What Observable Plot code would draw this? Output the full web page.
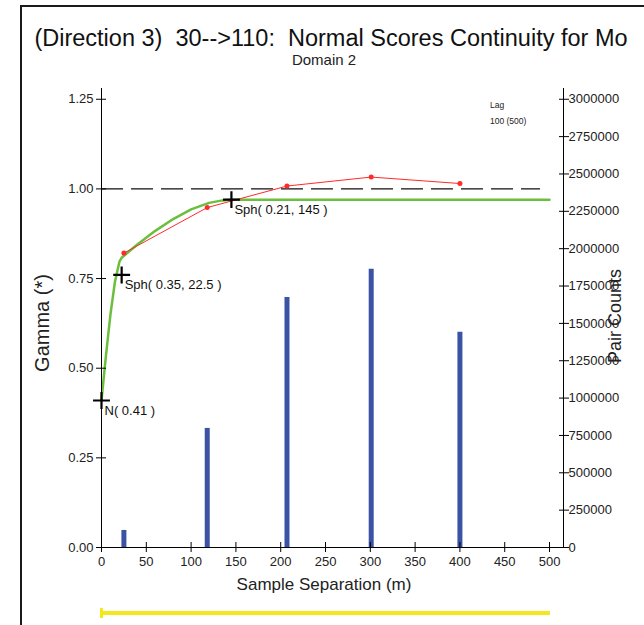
<!DOCTYPE html>
<html>
<head>
<meta charset="utf-8">
<script src="https://cdn.jsdelivr.net/npm/d3@7"></script>
<script src="https://cdn.jsdelivr.net/npm/@observablehq/plot@0.6"></script>
<style>
  html, body { margin: 0; padding: 0; background: #fff; }
  #wrap { position: relative; width: 644px; height: 625px; overflow: hidden; font-family: "Liberation Sans", Arial, sans-serif; }
  #chart { position: absolute; left: 0; top: 0; }
  #frame { position: absolute; left: 20px; top: 5px; width: 800px; height: 800px; border-left: 2px solid #1a1a1a; border-top: 2px solid #1a1a1a; }
  #overlay { position: absolute; left: 0; top: 0; }
</style>
</head>
<body>
<div id="wrap">
  <div id="chart"></div>
  <div id="frame"></div>
  <svg id="overlay" width="644" height="625" font-family="'Liberation Sans', Arial, sans-serif"></svg>
</div>
<script>
// ---- data ----
const titleText = "(Direction 3)  30-->110:  Normal Scores Continuity for Mo";
const subtitleText = "Domain 2";
const xLabel = "Sample Separation (m)";
const yLabel = "Gamma (*)";
const y2Label = "Pair Counts";
const legendLines = ["Lag", "100 (500)"];

// experimental variogram
const lags = [25, 118, 207, 301, 400];
const gammaExp = [0.821, 0.948, 1.008, 1.033, 1.015];
const pairCounts = [114000, 797000, 1674000, 1862000, 1440000];

// fitted model curve
const modelLag = [0, 5, 10, 15, 20, 22.5, 30, 40, 60, 80, 100, 120, 135, 145, 500];
const modelGamma = [0.41, 0.536, 0.65, 0.741, 0.797, 0.808, 0.824, 0.845, 0.883, 0.916, 0.943, 0.961, 0.968, 0.97, 0.97];

// model structure markers
const structLag = [0, 22.5, 145];
const structGamma = [0.41, 0.76, 0.97];
const structLabel = ["N( 0.41 )", "Sph( 0.35, 22.5 )", "Sph( 0.21, 145 )"];

const sill = 1.0;
const sillEnd = 490;

// ticks
const xTicks = [0, 50, 100, 150, 200, 250, 300, 350, 400, 450, 500];
const yTicks = [0, 0.25, 0.5, 0.75, 1.0, 1.25];
const y2Ticks = [0, 250000, 500000, 750000, 1000000, 1250000, 1500000, 1750000, 2000000, 2250000, 2500000, 2750000, 3000000];

const xDomain = [0, 515.6];
const yDomain = [0, 1.28];
const countMax = 3000000;
const gammaAtCountMax = 1.25;
const toGamma = c => c * gammaAtCountMax / countMax;

// ---- build tables ----
const expData = lags.map((l, i) => ({lag: l, gamma: gammaExp[i], count: pairCounts[i]}));
const modelData = modelLag.map((l, i) => ({lag: l, gamma: modelGamma[i]}));
const structData = structLag.map((l, i) => ({lag: l, gamma: structGamma[i], label: structLabel[i]}));
const y2Gamma = y2Ticks.map(toGamma);

const barColor = "#3a53a4";
const red = "#ff2a2a";
const green = "#6abf3c";
const blank = () => "";

const plot = Plot.plot({
  width: 644,
  height: 625,
  marginLeft: 101,
  marginRight: 81,
  marginTop: 88,
  marginBottom: 78,
  style: {fontFamily: "'Liberation Sans', Arial, sans-serif", fontSize: "13px", color: "#222", background: "transparent", overflow: "visible"},
  x: {domain: xDomain, axis: null},
  y: {domain: yDomain, axis: null},
  marks: [
    // pair count bars
    Plot.ruleX(expData, {x: "lag", y1: 0, y2: d => toGamma(d.count), stroke: barColor, strokeWidth: 5}),
    // sill
    Plot.ruleY([sill], {x1: 0, x2: sillEnd, stroke: "#111", strokeWidth: 1.2, strokeDasharray: "22,8"}),
    // model
    Plot.line(modelData, {x: "lag", y: "gamma", stroke: green, strokeWidth: 2.5}),
    // experimental
    Plot.line(expData, {x: "lag", y: "gamma", stroke: red, strokeWidth: 1}),
    Plot.dot(expData, {x: "lag", y: "gamma", r: 2.5, fill: red}),
    // axis lines
    Plot.ruleX([xDomain[0]], {stroke: "#000", strokeWidth: 1}),
    Plot.ruleX([xDomain[1]], {stroke: "#000", strokeWidth: 1}),
    Plot.ruleY([yDomain[0]], {stroke: "#000", strokeWidth: 1}),
    // left axis: crossing ticks + labels
    Plot.axisY(yTicks, {anchor: "left", tickSize: 10, dx: 5, tickFormat: blank, label: null, stroke: "#000", strokeOpacity: 1}),
    Plot.axisY(yTicks, {anchor: "left", tickSize: 0, tickPadding: 8, tickFormat: d => d.toFixed(2), label: null, fill: "#222"}),
    // bottom axis
    Plot.axisX(xTicks, {anchor: "bottom", tickSize: 10, dy: -5, tickFormat: blank, label: null, stroke: "#000", strokeOpacity: 1}),
    Plot.axisX(xTicks, {anchor: "bottom", tickSize: 0, tickPadding: 9, label: null, fill: "#222"}),
    // right axis (pair counts)
    Plot.axisY(y2Gamma, {anchor: "right", tickSize: 10, dx: -5, tickFormat: blank, label: null, stroke: "#000", strokeOpacity: 1}),
    Plot.axisY(y2Gamma, {anchor: "right", tickSize: 0, tickPadding: 5, label: null, fill: "#222",
      tickFormat: g => String(Math.round(g * countMax / gammaAtCountMax))}),
    // structure markers
    Plot.dot(structData, {x: "lag", y: "gamma", symbol: "plus", r: 5.5, stroke: "#000", strokeWidth: 2.2}),
    Plot.text(structData, {x: "lag", y: "gamma", text: "label", dx: 3, dy: 10, textAnchor: "start", fontSize: 13, fill: "#111"})
  ]
});
document.getElementById("chart").appendChild(plot);

// ---- titles, axis labels, legend, decoration ----
const ov = d3.select("#overlay");
ov.append("text").attr("x", 331).attr("y", 46).attr("text-anchor", "middle")
  .attr("font-size", 23.5).attr("fill", "#111").style("white-space", "pre").attr("xml:space", "preserve").text(titleText);
ov.append("text").attr("x", 324).attr("y", 65).attr("text-anchor", "middle")
  .attr("font-size", 15).attr("fill", "#222").text(subtitleText);
ov.append("text").attr("x", 324).attr("y", 590).attr("text-anchor", "middle")
  .attr("font-size", 17).attr("fill", "#222").text(xLabel);
ov.append("text").attr("transform", "translate(49,323) rotate(-90)").attr("text-anchor", "middle")
  .attr("font-size", 20).attr("fill", "#222").text(yLabel);
ov.append("text").attr("transform", "translate(621,316) rotate(-90)").attr("text-anchor", "middle")
  .attr("font-size", 18).attr("fill", "#222").text(y2Label);
ov.append("text").attr("x", 490).attr("y", 108).attr("font-size", 8.5).attr("fill", "#222").text(legendLines[0]);
ov.append("text").attr("x", 490).attr("y", 124).attr("font-size", 8.5).attr("fill", "#222").text(legendLines[1]);
// yellow bar below the chart
ov.append("rect").attr("x", 102).attr("y", 611).attr("width", 448).attr("height", 4).attr("fill", "#f2e81c");
ov.append("rect").attr("x", 100).attr("y", 608).attr("width", 3).attr("height", 10).attr("fill", "#f2e81c");
</script>
</body>
</html>
